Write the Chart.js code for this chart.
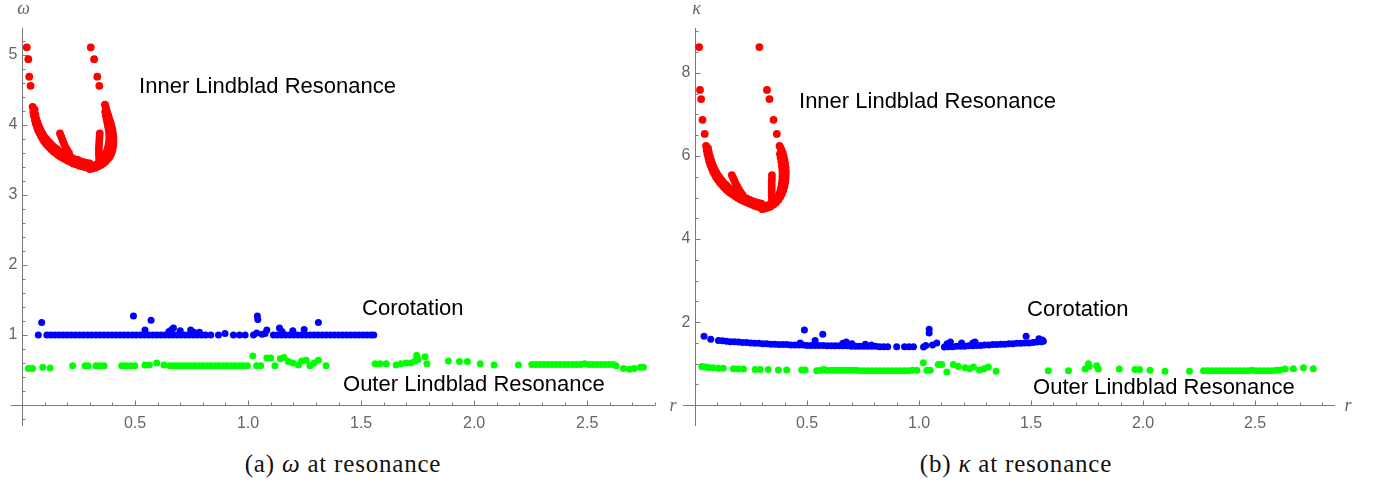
<!DOCTYPE html>
<html>
<head>
<meta charset="utf-8">
<script src="https://cdn.jsdelivr.net/npm/chart.js@4/dist/chart.umd.min.js"></script>
<style>
  html, body { margin: 0; padding: 0; background: #fff; }
  #wrap { position: relative; width: 1374px; height: 483px; overflow: hidden; }
  canvas { position: absolute; top: 0; }
  #cvOmega { left: 0; }
  #cvKappa { left: 676px; }
  .cap {
    position: absolute; top: 450px; white-space: nowrap;
    font-family: "Liberation Serif", "Times New Roman", serif;
    font-size: 25px; letter-spacing: 0.8px; color: #111;
    transform: translateX(-50%);
  }
</style>
</head>
<body>
<div id="wrap">
  <canvas id="cvOmega" width="680" height="440"></canvas>
  <canvas id="cvKappa" width="698" height="440"></canvas>
  <div class="cap" style="left:343px">(a) <i>ω</i> at resonance</div>
  <div class="cap" style="left:1016px">(b) <i>κ</i> at resonance</div>
</div>
<script>
// ---------- tick labels ----------
const rTickLabels = ['0.5', '1.0', '1.5', '2.0', '2.5'];
const omegaTickLabels = ['1', '2', '3', '4', '5'];
const kappaTickLabels = ['2', '4', '6', '8'];

// ---------- (a) pattern speed ω at resonance, points are [r, ω] ----------
const omegaInner = [
  [0.021,5.11],[0.028,4.94],[0.032,4.69],[0.038,4.56],
  [0.304,5.11],[0.319,4.94],[0.333,4.69],[0.342,4.56],
  [0.047,4.26],[0.050,4.19],[0.053,4.13],[0.057,4.07],[0.061,4.02],[0.066,3.97],[0.071,3.93],[0.077,3.89],
  [0.083,3.85],[0.090,3.81],[0.097,3.77],[0.105,3.74],[0.113,3.71],[0.122,3.68],[0.131,3.65],[0.140,3.62],
  [0.150,3.60],[0.160,3.57],[0.170,3.55],[0.181,3.53],[0.192,3.51],[0.203,3.49],[0.215,3.47],[0.227,3.45],
  [0.239,3.44],[0.252,3.42],[0.265,3.41],[0.278,3.40],[0.291,3.39],[0.300,3.37],
  [0.056,4.22],[0.059,4.15],[0.063,4.09],[0.068,4.04],[0.073,3.99],[0.079,3.95],[0.085,3.91],[0.092,3.87],
  [0.099,3.83],[0.107,3.80],[0.115,3.77],[0.124,3.74],[0.133,3.71],[0.143,3.68],[0.153,3.66],[0.163,3.63],
  [0.174,3.61],[0.185,3.59],[0.197,3.57],[0.209,3.55],[0.221,3.53],[0.234,3.51],[0.247,3.50],[0.260,3.48],
  [0.273,3.47],[0.286,3.46],[0.299,3.45],
  [0.168,3.88],[0.174,3.83],[0.180,3.78],[0.186,3.73],[0.193,3.68],[0.200,3.64],[0.208,3.60],
  [0.312,3.38],[0.325,3.39],[0.337,3.41],[0.349,3.43],[0.359,3.45],[0.369,3.48],[0.378,3.51],[0.386,3.54],
  [0.393,3.58],[0.398,3.62],[0.401,3.66],[0.403,3.70],[0.404,3.74],[0.404,3.78],[0.404,3.82],[0.403,3.86],
  [0.401,3.90],[0.399,3.94],[0.396,3.98],[0.393,4.02],[0.389,4.06],[0.385,4.10],[0.381,4.14],[0.377,4.18],
  [0.373,4.22],[0.370,4.26],[0.367,4.29],
  [0.320,3.42],[0.331,3.44],[0.342,3.46],[0.351,3.49],[0.359,3.52],[0.366,3.56],[0.372,3.60],[0.377,3.64],
  [0.381,3.69],[0.384,3.74],[0.386,3.79],[0.386,3.84],[0.385,3.89],[0.383,3.94],[0.380,3.99],[0.377,4.04],
  [0.374,4.09],[0.371,4.14],[0.368,4.19],
  [0.344,3.88],[0.343,3.83],[0.342,3.78],[0.341,3.73],[0.340,3.68],[0.340,3.63],[0.340,3.58],[0.341,3.53],[0.342,3.48]
];
const omegaCorot = [
  [0.072,1.00],[0.087,1.18],
  [0.110,1.00],[0.128,1.00],[0.146,1.00],[0.164,1.00],[0.182,1.00],[0.200,1.00],[0.218,1.00],[0.236,1.00],
  [0.254,1.00],[0.272,1.00],[0.290,1.00],[0.308,1.00],[0.326,1.00],[0.344,1.00],[0.362,1.00],[0.380,1.00],
  [0.398,1.00],[0.416,1.00],[0.434,1.00],[0.452,1.00],[0.470,1.00],[0.488,1.00],[0.506,1.00],[0.524,1.00],
  [0.542,1.00],[0.560,1.00],[0.578,1.00],[0.596,1.00],[0.614,1.00],[0.632,1.00],[0.650,1.00],[0.668,1.00],
  [0.686,1.00],[0.704,1.00],[0.722,1.00],[0.740,1.00],[0.758,1.00],[0.776,1.00],[0.794,1.00],[0.812,1.00],
  [0.493,1.27],[0.544,1.07],[0.571,1.21],[0.650,1.05],[0.662,1.08],[0.670,1.10],[0.700,1.06],[0.746,1.07],
  [0.760,1.04],[0.785,1.04],
  [0.835,1.00],[0.869,1.00],[0.898,1.02],[0.935,1.00],[0.962,1.00],[0.987,1.00],[1.024,1.00],[1.038,1.03],
  [1.041,1.27],[1.043,1.22],[1.062,1.01],[1.075,1.02],[1.083,1.07],
  [1.112,1.00],[1.130,1.00],[1.148,1.00],[1.166,1.00],[1.184,1.00],[1.202,1.00],[1.220,1.00],[1.238,1.00],
  [1.256,1.00],[1.274,1.00],[1.292,1.00],[1.310,1.00],[1.328,1.00],[1.346,1.00],[1.364,1.00],[1.382,1.00],
  [1.400,1.00],[1.418,1.00],[1.436,1.00],[1.454,1.00],[1.472,1.00],[1.490,1.00],[1.508,1.00],[1.526,1.00],
  [1.544,1.00],[1.556,1.00],
  [1.139,1.10],[1.150,1.05],[1.198,1.06],[1.248,1.08],[1.311,1.18]
];
const omegaOuter = [
  [0.028,0.52],[0.047,0.52],[0.092,0.54],[0.124,0.53],[0.224,0.56],[0.279,0.56],[0.293,0.56],[0.327,0.56],
  [0.345,0.56],[0.363,0.56],[0.441,0.56],[0.460,0.56],[0.481,0.56],[0.499,0.56],[0.544,0.57],[0.563,0.57],
  [0.596,0.60],[0.628,0.57],
  [0.655,0.56],[0.673,0.56],[0.691,0.56],[0.709,0.56],[0.727,0.56],[0.745,0.56],[0.763,0.56],[0.781,0.56],
  [0.799,0.56],[0.817,0.56],[0.835,0.56],[0.853,0.56],[0.871,0.56],[0.889,0.56],[0.907,0.56],[0.925,0.56],
  [0.943,0.56],[0.961,0.56],[0.979,0.56],[0.997,0.56],
  [1.021,0.70],[1.038,0.56],[1.056,0.56],[1.083,0.67],[1.100,0.67],[1.119,0.56],[1.142,0.66],[1.159,0.68],
  [1.178,0.62],[1.198,0.60],[1.223,0.57],[1.237,0.63],[1.257,0.64],[1.274,0.56],[1.292,0.60],[1.311,0.64],
  [1.345,0.56],
  [1.562,0.59],[1.584,0.59],[1.611,0.59],[1.655,0.57],[1.676,0.59],[1.699,0.60],[1.720,0.60],[1.739,0.63],
  [1.746,0.71],[1.752,0.65],[1.783,0.69],[1.791,0.59],[1.886,0.63],[1.935,0.62],[1.970,0.62],[2.027,0.59],
  [2.088,0.57],[2.196,0.57],
  [2.255,0.58],[2.273,0.58],[2.291,0.58],[2.309,0.58],[2.327,0.58],[2.345,0.58],[2.363,0.58],[2.381,0.58],
  [2.399,0.58],[2.417,0.58],[2.435,0.58],[2.453,0.58],[2.471,0.58],[2.489,0.59],[2.507,0.58],[2.525,0.58],
  [2.543,0.58],[2.561,0.58],[2.579,0.58],[2.597,0.58],[2.615,0.58],
  [2.628,0.56],[2.661,0.52],[2.687,0.51],[2.708,0.52],[2.735,0.54],[2.749,0.54]
];

// ---------- (b) epicyclic frequency κ at resonance, points are [r, κ] ----------
const kappaInner = [
  [0.018,8.62],[0.022,7.59],[0.027,7.37],[0.033,6.87],[0.043,6.53],
  [0.287,8.62],[0.321,7.59],[0.332,7.37],[0.350,6.87],[0.365,6.53],
  [0.049,6.24],[0.052,6.14],[0.055,6.05],[0.059,5.96],[0.063,5.87],[0.068,5.79],[0.074,5.71],[0.080,5.63],
  [0.087,5.56],[0.094,5.49],[0.102,5.43],[0.110,5.37],[0.119,5.31],[0.128,5.25],[0.138,5.20],[0.148,5.15],
  [0.158,5.11],[0.169,5.07],[0.180,5.03],[0.191,4.99],[0.203,4.95],[0.215,4.92],[0.227,4.89],[0.240,4.86],
  [0.253,4.83],[0.266,4.80],[0.279,4.78],[0.292,4.76],[0.300,4.72],
  [0.058,6.18],[0.062,6.08],[0.066,5.99],[0.071,5.90],[0.076,5.82],[0.082,5.74],[0.089,5.66],[0.096,5.59],
  [0.104,5.52],[0.112,5.46],[0.121,5.40],[0.130,5.34],[0.140,5.29],[0.150,5.24],[0.160,5.19],[0.171,5.15],
  [0.182,5.11],[0.194,5.07],[0.206,5.03],[0.218,5.00],[0.231,4.97],[0.244,4.94],[0.257,4.91],[0.270,4.89],
  [0.283,4.87],[0.296,4.85],
  [0.164,5.54],[0.170,5.47],[0.176,5.40],[0.182,5.33],[0.189,5.26],[0.196,5.19],[0.204,5.12],[0.212,5.06],
  [0.313,4.74],[0.326,4.76],[0.338,4.79],[0.350,4.83],[0.361,4.88],[0.371,4.94],[0.380,5.01],[0.388,5.09],
  [0.394,5.18],[0.399,5.27],[0.402,5.36],[0.404,5.45],[0.405,5.54],[0.405,5.63],[0.404,5.72],[0.402,5.81],
  [0.399,5.90],[0.396,5.98],[0.392,6.06],[0.387,6.13],[0.382,6.19],[0.377,6.24],
  [0.315,4.80],[0.328,4.82],[0.340,4.85],[0.351,4.89],[0.360,4.94],[0.368,5.00],[0.375,5.07],[0.380,5.15],
  [0.384,5.24],[0.387,5.33],[0.389,5.42],[0.390,5.51],[0.390,5.60],[0.389,5.69],[0.387,5.78],[0.385,5.87],
  [0.382,5.96],[0.379,6.05],
  [0.343,5.54],[0.343,5.46],[0.342,5.38],[0.342,5.30],[0.342,5.22],[0.342,5.14],[0.342,5.06],[0.343,4.98],[0.344,4.90]
];
const kappaCorot = [
  [0.040,1.66],[0.070,1.59],
  [0.104,1.56],[0.122,1.55],[0.140,1.54],[0.158,1.53],[0.176,1.53],[0.194,1.52],[0.212,1.51],[0.230,1.51],
  [0.248,1.50],[0.266,1.49],[0.284,1.49],[0.302,1.48],[0.320,1.48],[0.338,1.47],[0.356,1.47],[0.374,1.46],
  [0.392,1.46],[0.410,1.46],[0.428,1.45],[0.446,1.45],[0.464,1.45],[0.482,1.45],[0.500,1.44],[0.518,1.44],
  [0.536,1.44],[0.554,1.44],[0.572,1.44],[0.590,1.43],[0.608,1.43],[0.626,1.43],[0.644,1.43],[0.662,1.43],
  [0.680,1.43],[0.698,1.42],[0.716,1.42],[0.734,1.42],[0.752,1.42],[0.770,1.42],[0.788,1.42],[0.806,1.42],
  [0.824,1.41],[0.842,1.41],[0.860,1.41],
  [0.488,1.81],[0.570,1.71],[0.469,1.50],[0.536,1.56],[0.660,1.49],[0.675,1.52],[0.700,1.48],[0.760,1.47],
  [0.787,1.45],
  [0.900,1.41],[0.935,1.41],[0.955,1.41],[0.975,1.41],[1.020,1.40],[1.030,1.44],[1.045,1.83],[1.045,1.74],
  [1.060,1.45],[1.079,1.50],
  [1.113,1.40],[1.131,1.41],[1.149,1.41],[1.167,1.42],[1.185,1.42],[1.203,1.42],[1.221,1.43],[1.239,1.43],
  [1.257,1.44],[1.275,1.44],[1.293,1.45],[1.311,1.45],[1.329,1.46],[1.347,1.46],[1.365,1.47],[1.383,1.47],
  [1.401,1.48],[1.419,1.48],[1.437,1.49],[1.455,1.49],[1.473,1.50],[1.491,1.50],[1.509,1.51],[1.527,1.52],
  [1.545,1.53],[1.555,1.54],
  [1.125,1.48],[1.140,1.52],[1.190,1.50],[1.240,1.50],[1.250,1.52],[1.478,1.66],[1.535,1.60],[1.550,1.57]
];
const kappaOuter = [
  [0.030,0.93],[0.045,0.92],[0.060,0.91],[0.080,0.90],[0.104,0.89],[0.126,0.89],[0.171,0.88],[0.193,0.87],
  [0.216,0.87],[0.268,0.86],[0.290,0.86],[0.327,0.86],[0.372,0.85],[0.409,0.85],[0.476,0.85],[0.491,0.85],
  [0.543,0.83],[0.560,0.84],[0.575,0.86],[0.590,0.84],[0.610,0.84],[0.628,0.84],
  [0.646,0.84],[0.664,0.84],[0.682,0.84],[0.700,0.84],[0.718,0.84],[0.736,0.83],[0.754,0.83],[0.772,0.83],
  [0.790,0.83],[0.808,0.83],[0.826,0.83],[0.844,0.83],[0.862,0.83],[0.880,0.83],[0.898,0.83],[0.916,0.83],
  [0.934,0.83],[0.952,0.83],[0.970,0.84],[0.990,0.84],
  [1.019,1.02],[1.035,0.84],[1.050,0.84],[1.086,0.98],[1.101,0.98],[1.124,0.80],[1.153,0.98],[1.175,0.93],
  [1.205,0.90],[1.225,0.88],[1.243,0.92],[1.270,0.85],[1.290,0.88],[1.309,0.92],[1.344,0.82],
  [1.577,0.83],[1.667,0.83],[1.741,0.87],[1.756,1.00],[1.760,0.93],[1.793,0.95],[1.800,0.87],[1.894,0.87],
  [1.964,0.86],[1.984,0.86],[2.031,0.84],[2.098,0.82],[2.207,0.82],
  [2.270,0.83],[2.288,0.83],[2.306,0.83],[2.324,0.83],[2.342,0.83],[2.360,0.83],[2.378,0.83],[2.396,0.83],
  [2.414,0.83],[2.432,0.83],[2.450,0.83],[2.468,0.83],[2.486,0.84],[2.504,0.83],[2.522,0.83],[2.540,0.83],
  [2.558,0.83],[2.576,0.83],[2.594,0.84],[2.612,0.85],
  [2.634,0.87],[2.671,0.88],[2.716,0.90],[2.760,0.88]
];

// ---------- axes drawn through the chart's own scales ----------
const AXIS_COLOR = '#7a7a7a';
const LABEL_COLOR = '#666666';

const resonanceAxes = {
  id: 'resonanceAxes',
  beforeDatasetsDraw(chart, args, o) {
    const { ctx, chartArea: a } = chart;
    const xs = chart.scales.x, ys = chart.scales.y;
    const px = v => xs.getPixelForValue(v);
    const py = v => ys.getPixelForValue(v);
    const x0 = Math.round(px(0)) + 0.5;
    const y0 = Math.round(py(0)) + 0.5;
    ctx.save();
    ctx.strokeStyle = AXIS_COLOR;
    ctx.lineWidth = 1;
    ctx.beginPath();
    ctx.moveTo(a.left, y0); ctx.lineTo(a.right, y0);
    ctx.moveTo(x0, a.top); ctx.lineTo(x0, a.bottom);
    // x ticks point up into the plot
    for (let i = 1; i * o.xMinor <= xs.max + 1e-9; i++) {
      const v = i * o.xMinor;
      const major = o.xMajor.some(m => Math.abs(m - v) < 1e-6);
      const p = Math.round(px(v)) + 0.5;
      ctx.moveTo(p, y0); ctx.lineTo(p, y0 - (major ? 5 : 3));
    }
    // y ticks point right into the plot
    for (let i = Math.ceil(ys.min / o.yMinor + 1e-9); i * o.yMinor <= ys.max + 1e-9; i++) {
      if (i === 0) continue;
      const v = i * o.yMinor;
      const major = o.yMajor.some(m => Math.abs(m - v) < 1e-6);
      const p = Math.round(py(v)) + 0.5;
      ctx.moveTo(x0, p); ctx.lineTo(x0 + (major ? 5 : 3), p);
    }
    ctx.stroke();

    ctx.fillStyle = LABEL_COLOR;
    ctx.font = '16px "Liberation Sans", Arial, sans-serif';
    ctx.textAlign = 'center';
    ctx.textBaseline = 'middle';
    o.xLabels.forEach(t => ctx.fillText(t, px(parseFloat(t)), y0 + 18));
    ctx.textAlign = 'right';
    o.yLabels.forEach(t => ctx.fillText(t, x0 - 5, py(parseFloat(t))));

    ctx.font = 'italic 18px "Liberation Serif", "Times New Roman", serif';
    ctx.textAlign = 'center';
    ctx.fillText(o.yName, x0 + 1, a.top - 19);
    ctx.fillText('r', a.right + o.rGap, y0 + 1);
    ctx.restore();
  },
  afterDatasetsDraw(chart, args, o) {
    const { ctx } = chart;
    const xs = chart.scales.x, ys = chart.scales.y;
    ctx.save();
    ctx.fillStyle = '#000';
    ctx.font = '22px "Liberation Sans", Arial, sans-serif';
    ctx.textAlign = 'left';
    ctx.textBaseline = 'middle';
    o.notes.forEach(n => ctx.fillText(n.text, xs.getPixelForValue(n.r), ys.getPixelForValue(n.v)));
    ctx.restore();
  }
};

function series(points, color, radius) {
  return {
    data: points.map(p => ({ x: p[0], y: p[1] })),
    backgroundColor: color,
    borderColor: color,
    pointRadius: radius,
    pointHoverRadius: radius,
    pointBorderWidth: 0,
    showLine: false,
    clip: false
  };
}

function resonanceChart(id, sets, xRange, yRange, padding, axes) {
  return new Chart(document.getElementById(id), {
    type: 'scatter',
    data: { datasets: sets },
    options: {
      responsive: false,
      animation: false,
      devicePixelRatio: 1,
      events: [],
      layout: { padding },
      plugins: { legend: { display: false }, tooltip: { enabled: false }, resonanceAxes: axes },
      scales: {
        x: { type: 'linear', min: xRange[0], max: xRange[1], display: false },
        y: { type: 'linear', min: yRange[0], max: yRange[1], display: false }
      }
    },
    plugins: [resonanceAxes]
  });
}

resonanceChart('cvOmega',
  [series(omegaOuter, '#00ff00', 3.5), series(omegaCorot, '#0000ff', 3.5), series(omegaInner, '#ff0000', 3.9)],
  [-0.05, 2.80], [-0.30, 5.386],
  { left: 10.7, right: 25, top: 28, bottom: 14 },
  {
    xMinor: 0.1, xMajor: rTickLabels.map(Number), xLabels: rTickLabels,
    yMinor: 0.2, yMajor: omegaTickLabels.map(Number), yLabels: omegaTickLabels,
    yName: 'ω', rGap: 18,
    notes: [
      { text: 'Inner Lindblad Resonance', r: 0.518, v: 4.54 },
      { text: 'Corotation', r: 1.504, v: 1.37 },
      { text: 'Outer Lindblad Resonance', r: 1.42, v: 0.286 }
    ]
  });

resonanceChart('cvKappa',
  [series(kappaOuter, '#00ff00', 3.5), series(kappaCorot, '#0000ff', 3.5), series(kappaInner, '#ff0000', 3.9)],
  [-0.054, 2.857], [-0.50, 9.08],
  { left: 7, right: 39, top: 28, bottom: 14 },
  {
    xMinor: 0.1, xMajor: rTickLabels.map(Number), xLabels: rTickLabels,
    yMinor: 0.5, yMajor: kappaTickLabels.map(Number), yLabels: kappaTickLabels,
    yName: 'κ', rGap: 13,
    notes: [
      { text: 'Inner Lindblad Resonance', r: 0.464, v: 7.30 },
      { text: 'Corotation', r: 1.482, v: 2.29 },
      { text: 'Outer Lindblad Resonance', r: 1.509, v: 0.41 }
    ]
  });
</script>
</body>
</html>
